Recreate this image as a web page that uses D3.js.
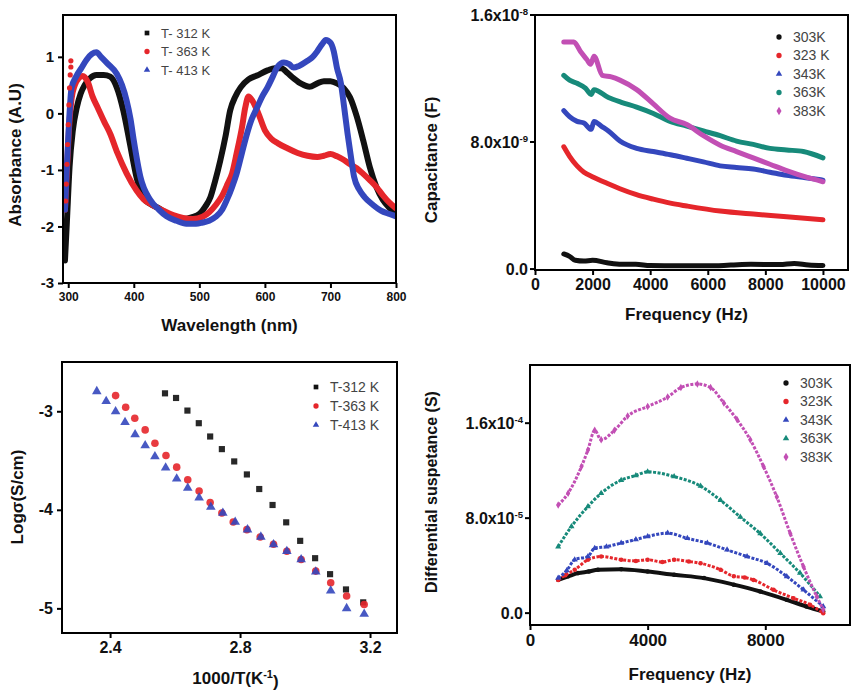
<!DOCTYPE html>
<html><head><meta charset="utf-8">
<script src="https://cdn.jsdelivr.net/npm/d3@7"></script>
<style>
body{margin:0;background:#fff;}
text{font-family:"Liberation Sans",Arial,sans-serif;}
</style></head>
<body>
<svg id="c" width="853" height="691"></svg>
<script>
// ---------- Panel (a): absorbance ----------
const abs312 = [[295,-2.6],[298,-1.9],[302,-0.95],[307,-0.3],[313,0.1],[319,0.35],[325,0.5],[333,0.62],[343,0.68],[354,0.68],[364,0.65],[374,0.46],[384,0.05],[394,-0.53],[404,-1.12],[415,-1.5],[425,-1.6],[435,-1.66],[448,-1.75],[461,-1.83],[475,-1.87],[488,-1.84],[501,-1.77],[509,-1.65],[517,-1.48],[524,-1.2],[532,-0.83],[540,-0.4],[547,0.05],[555,0.3],[563,0.46],[575,0.6],[588,0.67],[604,0.76],[615,0.8],[625,0.8],[634,0.72],[644,0.62],[656,0.52],[668,0.47],[680,0.53],[690,0.57],[700,0.57],[710,0.53],[720,0.45],[730,0.28],[740,-0.05],[750,-0.48],[760,-0.95],[770,-1.3],[780,-1.53],[790,-1.67],[800,-1.77]];
const abs363 = [[295,-1.7],[298,-1.0],[301,-0.3],[305,0.25],[310,0.5],[316,0.62],[322,0.66],[330,0.55],[337,0.3],[345,0.1],[355,-0.15],[364,-0.36],[375,-0.7],[389,-1.06],[404,-1.36],[415,-1.52],[430,-1.63],[445,-1.72],[460,-1.8],[475,-1.85],[490,-1.87],[505,-1.83],[515,-1.75],[525,-1.62],[535,-1.45],[543,-1.25],[550,-1.06],[557,-0.7],[565,-0.25],[570,0.1],[575,0.3],[581,0.22],[590,0.0],[600,-0.3],[610,-0.45],[620,-0.53],[635,-0.62],[650,-0.7],[665,-0.75],[680,-0.77],[690,-0.75],[700,-0.72],[710,-0.76],[720,-0.82],[730,-0.9],[740,-0.97],[750,-1.07],[760,-1.18],[770,-1.3],[780,-1.45],[790,-1.58],[800,-1.68]];
const abs363Dots = [[304,0.93],[304,0.82],[303,0.68],[302,0.45],[301,0.15],[300,-0.2],[299,-0.55],[298,-0.9],[297,-1.25],[296,-1.55]];
const abs413 = [[295,-1.7],[298,-0.9],[301,-0.2],[305,0.45],[312,0.65],[320,0.8],[328,0.95],[336,1.05],[343,1.08],[350,1.0],[360,0.88],[374,0.7],[382,0.5],[389,0.23],[395,-0.1],[400,-0.48],[410,-1.12],[425,-1.53],[438,-1.7],[450,-1.82],[465,-1.9],[480,-1.95],[495,-1.95],[505,-1.93],[515,-1.9],[525,-1.83],[535,-1.7],[542,-1.53],[550,-1.3],[557,-1.06],[565,-0.7],[573,-0.35],[580,-0.1],[588,0.1],[596,0.3],[604,0.46],[612,0.65],[619,0.82],[629,0.9],[637,0.87],[644,0.81],[652,0.84],[665,0.93],[673,1.0],[680,1.1],[687,1.22],[693,1.3],[700,1.25],[705,1.1],[710,0.8],[716,0.53],[721,0.1],[726,-0.35],[731,-0.75],[736,-1.12],[744,-1.35],[752,-1.48],[765,-1.62],[777,-1.72],[790,-1.78],[800,-1.82]];
const absLabels = ["T- 312 K","T- 363 K","T- 413 K"];
const absXTicks = [300,400,500,600,700,800];
const absYTicks = [-3,-2,-1,0,1];

// ---------- Panel (b): capacitance ----------
const cap303 = [[1000,0.95e-9],[1200,0.8e-9],[1400,0.55e-9],[1700,0.5e-9],[2000,0.55e-9],[2500,0.4e-9],[3000,0.3e-9],[3500,0.3e-9],[4000,0.22e-9],[5000,0.2e-9],[6000,0.2e-9],[6800,0.25e-9],[7500,0.3e-9],[8500,0.28e-9],[9000,0.35e-9],[9500,0.25e-9],[10000,0.22e-9]];
const cap323 = [[1000,7.7e-9],[1200,7.1e-9],[1460,6.5e-9],[1700,6.1e-9],[2010,5.8e-9],[2500,5.4e-9],[2950,5.06e-9],[3500,4.7e-9],[4110,4.4e-9],[4700,4.15e-9],[5270,3.97e-9],[6430,3.65e-9],[7580,3.46e-9],[8740,3.3e-9],[10000,3.1e-9]];
const cap343 = [[1000,9.98e-9],[1200,9.6e-9],[1460,9.3e-9],[1700,9.2e-9],[1950,8.8e-9],[2050,9.3e-9],[2300,9.0e-9],[2550,8.7e-9],[2950,8.06e-9],[3530,7.6e-9],[4110,7.4e-9],[4700,7.2e-9],[5270,6.98e-9],[5850,6.75e-9],[6430,6.5e-9],[7000,6.4e-9],[7580,6.3e-9],[8160,6.1e-9],[8740,5.9e-9],[9400,5.75e-9],[10000,5.6e-9]];
const cap363 = [[1000,12.2e-9],[1200,11.9e-9],[1460,11.7e-9],[1750,11.4e-9],[1950,11.0e-9],[2050,11.3e-9],[2550,10.8e-9],[3000,10.5e-9],[3530,10.2e-9],[4110,9.8e-9],[4690,9.3e-9],[5270,9.0e-9],[5850,8.7e-9],[6430,8.4e-9],[7000,8.06e-9],[7580,7.85e-9],[8160,7.6e-9],[8740,7.5e-9],[9320,7.4e-9],[10000,7.0e-9]];
const cap383 = [[1000,14.3e-9],[1350,14.3e-9],[1580,13.7e-9],[1800,13.2e-9],[1930,12.9e-9],[2050,13.4e-9],[2340,12.2e-9],[2650,12.1e-9],[2950,11.9e-9],[3530,11.3e-9],[4110,10.4e-9],[4690,9.5e-9],[5270,9.1e-9],[5850,8.4e-9],[6430,7.8e-9],[7000,7.4e-9],[7580,7.0e-9],[8160,6.6e-9],[8740,6.2e-9],[9400,5.8e-9],[10000,5.5e-9]];
const tempLabels = ["303K","323 K","343K","363K","383K"];
const freqTicks1 = [0,2000,4000,6000,8000,10000];
const capYTicks = [[0,"0.0",""],[8e-9,"8.0x10","-9"],[1.6e-8,"1.6x10","-8"]];

// ---------- Panel (c): conductivity ----------
const cond312X = [2.569,2.603,2.638,2.673,2.708,2.744,2.782,2.821,2.859,2.900,2.942,2.985,3.031,3.077,3.126,3.179];
const cond312Y = [-2.818,-2.865,-2.993,-3.121,-3.256,-3.384,-3.509,-3.641,-3.789,-3.951,-4.127,-4.315,-4.491,-4.653,-4.808,-4.939];
const cond363X = [2.417,2.448,2.476,2.508,2.538,2.572,2.605,2.639,2.674,2.708,2.744,2.779,2.821,2.862,2.903,2.944,2.988,3.033,3.079,3.128,3.182];
const cond363Y = [-2.841,-2.960,-3.071,-3.189,-3.324,-3.449,-3.567,-3.695,-3.809,-3.927,-4.032,-4.123,-4.201,-4.275,-4.349,-4.420,-4.504,-4.622,-4.740,-4.875,-4.960];
const cond413X = [2.359,2.388,2.417,2.446,2.477,2.508,2.538,2.571,2.605,2.639,2.674,2.710,2.747,2.785,2.823,2.864,2.903,2.944,2.988,3.033,3.079,3.128,3.182];
const cond413Y = [-2.798,-2.899,-3.003,-3.111,-3.236,-3.347,-3.459,-3.573,-3.685,-3.779,-3.877,-3.971,-4.032,-4.123,-4.201,-4.275,-4.352,-4.420,-4.504,-4.629,-4.821,-5.000,-5.057];
const condLabels = ["T-312 K","T-363 K","T-413 K"];
const condXTicks = [2.4,2.8,3.2];
const condYTicks = [-3,-4,-5];

// ---------- Panel (d): differential suspetance ----------
const sus303 = [[958,2.81e-5],[1300,3.1e-5],[1634,3.37e-5],[2000,3.5e-5],[2310,3.65e-5],[3100,3.7e-5],[4000,3.5e-5],[4900,3.23e-5],[5915,2.95e-5],[6930,2.4e-5],[7830,1.82e-5],[8730,1.12e-5],[9400,0.56e-5],[9970,0.14e-5]];
const sus323 = [[958,2.8e-5],[1200,3.2e-5],[1520,3.65e-5],[1970,4.5e-5],[2420,4.77e-5],[3100,4.5e-5],[3600,4.4e-5],[4000,4.5e-5],[4500,4.3e-5],[4900,4.5e-5],[5400,4.35e-5],[5800,4.2e-5],[6480,3.65e-5],[6930,3.1e-5],[7300,3.0e-5],[7600,2.8e-5],[8280,1.96e-5],[8960,1.26e-5],[9520,0.7e-5],[9970,0.0]];
const sus343 = [[958,2.95e-5],[1250,3.6e-5],[1520,4.5e-5],[1970,4.77e-5],[2200,5.47e-5],[2600,5.6e-5],[3100,5.9e-5],[3600,6.2e-5],[4000,6.46e-5],[4680,6.74e-5],[5350,6.3e-5],[6030,5.9e-5],[6700,5.33e-5],[7380,4.77e-5],[8060,4.2e-5],[8730,3.09e-5],[9300,1.96e-5],[9970,0.56e-5]];
const sus363 = [[958,5.6e-5],[1410,7.3e-5],[1970,8.98e-5],[2420,1.01e-4],[3100,1.12e-4],[3600,1.16e-4],[4000,1.19e-4],[4900,1.15e-4],[5800,1.07e-4],[6480,9.5e-5],[7150,8.1e-5],[7830,6.7e-5],[8510,5.05e-5],[9180,3.37e-5],[9860,1.4e-5]];
const sus383 = [[958,9.1e-5],[1296,1.01e-4],[1750,1.235e-4],[1970,1.375e-4],[2200,1.54e-4],[2420,1.46e-4],[2870,1.54e-4],[3320,1.66e-4],[4000,1.74e-4],[4680,1.82e-4],[5130,1.9e-4],[5690,1.93e-4],[6140,1.9e-4],[6590,1.77e-4],[7040,1.63e-4],[7490,1.46e-4],[7940,1.235e-4],[8390,9.8e-5],[8850,6.7e-5],[9300,3.9e-5],[9750,1.4e-5],[9970,0.3e-5]];
const susLabels = ["303K","323K","343K","363K","383K"];
const freqTicks2 = [0,4000,8000];
const susYTicks = [[0,"0.0",""],[8e-5,"8.0x10","-5"],[1.6e-4,"1.6x10","-4"]];

// ---------- drawing ----------
const svg = d3.select("#c");
const C = {black:"#111111", red:"#e5262b", blue:"#3447bd", teal:"#178a7a", mag:"#c24fb4"};
const FONT = "'Liberation Sans',Arial,sans-serif";
const hy = f => v => f(v).replace("\u2212","-");

function frame(g, x0, x1, y0, y1, id){
  svg.append("clipPath").attr("id", id).append("rect")
    .attr("x", x0).attr("y", y0).attr("width", x1-x0).attr("height", y1-y0);
  return () => g.append("rect").attr("x", x0).attr("y", y0).attr("width", x1-x0).attr("height", y1-y0)
      .attr("fill","none").attr("stroke","#000").attr("stroke-width",2);
}
function symbol(type, size){ return d3.symbol().type(type).size(size)(); }
function xAxis(g, x, y1, ticks, fs, fmt){
  const ax = g.append("g").attr("transform", `translate(0,${y1})`)
    .call(d3.axisBottom(x).tickValues(ticks).tickSize(5).tickPadding(4).tickFormat(hy(fmt || d3.format("d"))));
  ax.select(".domain").remove();
  ax.selectAll("line").attr("stroke","#000").attr("stroke-width",2);
  ax.selectAll("text").attr("font-size",fs).attr("font-weight","bold").attr("font-family",FONT).attr("fill","#111");
}
function yAxis(g, y, x0, ticks, fs, fmt){
  const ax = g.append("g").attr("transform", `translate(${x0},0)`)
    .call(d3.axisLeft(y).tickValues(ticks).tickSize(5).tickPadding(4).tickFormat(hy(fmt || d3.format("d"))));
  ax.select(".domain").remove();
  ax.selectAll("line").attr("stroke","#000").attr("stroke-width",2);
  ax.selectAll("text").attr("font-size",fs).attr("font-weight","bold").attr("font-family",FONT).attr("fill","#111");
}
function yAxisSup(g, y, x0, ticks, fs){
  ticks.forEach(t => {
    g.append("line").attr("x1",x0-5).attr("x2",x0).attr("y1",y(t[0])).attr("y2",y(t[0])).attr("stroke","#000").attr("stroke-width",2);
    const tx = g.append("text").attr("x", x0-7).attr("y", y(t[0])).attr("dy","0.35em").attr("text-anchor","end")
      .attr("font-size",fs).attr("font-weight","bold").attr("fill","#111");
    tx.append("tspan").text(t[1]);
    if (t[2]) tx.append("tspan").attr("dy","-0.6em").attr("font-size",fs*0.6).text(t[2]);
  });
}
function title(g, txt, x, y, rot, fs){
  const t = g.append("text").attr("text-anchor","middle").attr("font-size",fs).attr("font-weight","bold").attr("fill","#111")
    .attr("transform", rot ? `translate(${x},${y}) rotate(-90)` : `translate(${x},${y})`);
  return t.text(txt);
}
function legend(g, items, x, y0, dy, fs){
  items.forEach((it,i) => {
    const yy = y0 + i*dy;
    g.append("path").attr("d", symbol(it.sym, it.size||22)).attr("transform",`translate(${x},${yy})`).attr("fill", it.color);
    g.append("text").attr("x", x+14).attr("y", yy).attr("dy","0.35em").attr("font-size",fs).attr("fill","#444").text(it.label);
  });
}

// Panel a
(function(){
  const g = svg.append("g");
  const L=63,R=396,T=15,B=283;
  const x = d3.scaleLinear().domain([292,800]).range([L,R]);
  const y = d3.scaleLinear().domain([-3,1.74]).range([B,T]);
  const drawFrame = frame(g,L,R,T,B,"clipA");
  const line = d3.line().x(d=>x(d[0])).y(d=>y(d[1])).curve(d3.curveMonotoneX);
  const series = [[abs312,C.black],[abs363,C.red],[abs413,C.blue]];
  const pg = g.append("g").attr("clip-path","url(#clipA)");
  series.forEach(s => pg.append("path").datum(s[0]).attr("d",line).attr("fill","none")
     .attr("stroke",s[1]).attr("stroke-width",6).attr("stroke-linejoin","round").attr("stroke-linecap","round"));
  pg.append("g").selectAll("circle").data(abs363Dots).join("circle")
     .attr("cx",d=>x(d[0])).attr("cy",d=>y(d[1])).attr("r",2.6).attr("fill",C.red);
  drawFrame();
  xAxis(g,x,B,absXTicks,12);
  yAxis(g,y,L,absYTicks,15);
  title(g,"Wavelength (nm)",(L+R)/2,331,false,17);
  title(g,"Absorbance (A.U)",21,155,true,17);
  legend(g,[{sym:d3.symbolSquare,color:C.black,label:absLabels[0]},{sym:d3.symbolCircle,color:C.red,label:absLabels[1]},{sym:d3.symbolTriangle,color:C.blue,label:absLabels[2],size:18}],147,33,18.5,13);
})();

// Panel b
(function(){
  const g = svg.append("g");
  const L=535,R=848,T=15,B=270;
  const x = d3.scaleLinear().domain([0,10870]).range([L,R]);
  const y = d3.scaleLinear().domain([-0.06e-9,1.6e-8]).range([B,T]);
  const drawFrame = frame(g,L,R,T,B,"clipB");
  const line = d3.line().x(d=>x(d[0])).y(d=>y(d[1])).curve(d3.curveMonotoneX);
  const series = [[cap303,C.black],[cap323,C.red],[cap343,C.blue],[cap363,C.teal],[cap383,C.mag]];
  const pg = g.append("g").attr("clip-path","url(#clipB)");
  series.forEach(s => pg.append("path").datum(s[0]).attr("d",line).attr("fill","none")
     .attr("stroke",s[1]).attr("stroke-width",5).attr("stroke-linejoin","round").attr("stroke-linecap","round"));
  drawFrame();
  xAxis(g,x,B,freqTicks1,16);
  yAxisSup(g,y,L,capYTicks,16);
  title(g,"Frequency (Hz)",(L+R)/2 - 5,320,false,17);
  title(g,"Capacitance (F)",437,160,true,17);
  legend(g,[{sym:d3.symbolCircle,color:C.black,label:tempLabels[0]},{sym:d3.symbolCircle,color:C.red,label:tempLabels[1]},{sym:d3.symbolTriangle,color:C.blue,label:tempLabels[2],size:18},{sym:d3.symbolCircle,color:C.teal,label:tempLabels[3]},{sym:d3.symbolDiamond,color:C.mag,label:tempLabels[4]}],779,37,18.5,14);
})();

// Panel c
(function(){
  const g = svg.append("g");
  const L=62,R=397,T=362,B=633;
  const x = d3.scaleLinear().domain([2.252,3.283]).range([L,R]);
  const y = d3.scaleLinear().domain([-5.25,-2.5]).range([B,T]);
  const drawFrame = frame(g,L,R,T,B,"clipC");
  drawFrame();
  const series = [[cond312X,cond312Y,C.black,d3.symbolSquare,38],[cond363X,cond363Y,C.red,d3.symbolCircle,45],[cond413X,cond413Y,C.blue,d3.symbolTriangle,40]];
  series.forEach(s => {
    g.append("g").selectAll("path").data(s[0].map((v,i)=>[v,s[1][i]])).join("path")
      .attr("d", symbol(s[3], s[4])).attr("transform", d=>`translate(${x(d[0])},${y(d[1])})`).attr("fill", s[2]).attr("fill-opacity",0.9);
  });
  xAxis(g,x,B,condXTicks,16,d3.format(".1f"));
  yAxis(g,y,L,condYTicks,16);
  const t = title(g,"",(L+R)/2 + 6,684,false,17);
  t.append("tspan").text("1000/T(K");
  t.append("tspan").attr("dy","-0.55em").attr("font-size",11).text("-1");
  t.append("tspan").attr("dy","0.55em").text(")");
  title(g,"Logσ(S/cm)",23,497,true,17);
  legend(g,[{sym:d3.symbolSquare,color:C.black,label:condLabels[0]},{sym:d3.symbolCircle,color:C.red,label:condLabels[1]},{sym:d3.symbolTriangle,color:C.blue,label:condLabels[2],size:18}],316,387,19,14);
})();

// Panel d
(function(){
  const g = svg.append("g");
  const L=530,R=850,T=365,B=625;
  const x = d3.scaleLinear().domain([0,10880]).range([L,R]);
  const y = d3.scaleLinear().domain([-1.0e-5,2.09e-4]).range([B,T]);
  const drawFrame = frame(g,L,R,T,B,"clipD");
  const line = d3.line().x(d=>x(d[0])).y(d=>y(d[1])).curve(d3.curveMonotoneX);
  const series = [[sus303,C.black,d3.symbolCircle],[sus323,C.red,d3.symbolCircle],[sus343,C.blue,d3.symbolTriangle],[sus363,C.teal,d3.symbolTriangle],[sus383,C.mag,d3.symbolDiamond]];
  const pg = g.append("g").attr("clip-path","url(#clipD)");
  series.forEach(s => {
    pg.append("path").datum(s[0]).attr("d",line).attr("fill","none")
     .attr("stroke",s[1]).attr("stroke-width",s[0]===sus303?4:3).attr("stroke-dasharray", s[0]===sus303?null:"3,1.5").attr("stroke-linejoin","round");
    pg.append("g").selectAll("path").data(s[0]).join("path").attr("d", symbol(s[2],16))
      .attr("transform", d=>`translate(${x(d[0])},${y(d[1])})`).attr("fill", s[1]);
  });
  drawFrame();
  xAxis(g,x,B,freqTicks2,17);
  yAxisSup(g,y,L,susYTicks,16);
  title(g,"Frequency (Hz)",690,680,false,17);
  title(g,"Differential suspetance (S)",437,492,true,16);
  legend(g,[{sym:d3.symbolCircle,color:C.black,label:susLabels[0]},{sym:d3.symbolCircle,color:C.red,label:susLabels[1]},{sym:d3.symbolTriangle,color:C.blue,label:susLabels[2],size:18},{sym:d3.symbolTriangle,color:C.teal,label:susLabels[3],size:18},{sym:d3.symbolDiamond,color:C.mag,label:susLabels[4]}],786,383,18.5,14);
})();
</script>
</body></html>
